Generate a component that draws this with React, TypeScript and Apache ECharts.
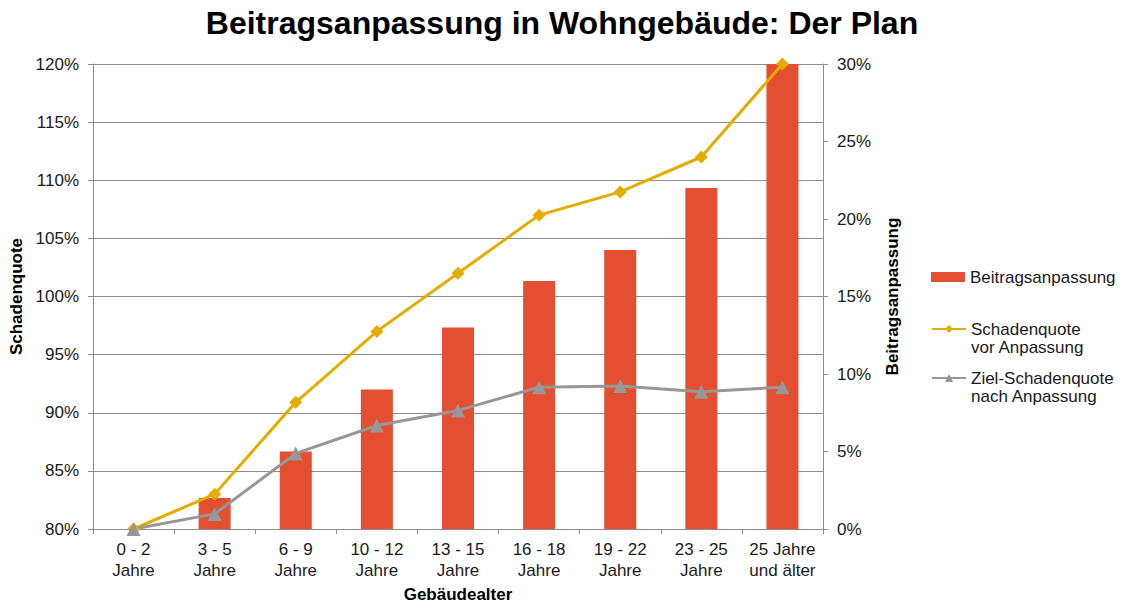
import React, { useEffect, useRef } from "react";
import * as echarts from "echarts";

const categories = [
  "0 - 2\nJahre",
  "3 - 5\nJahre",
  "6 - 9\nJahre",
  "10 - 12\nJahre",
  "13 - 15\nJahre",
  "16 - 18\nJahre",
  "19 - 22\nJahre",
  "23 - 25\nJahre",
  "25 Jahre\nund älter",
];
const beitragsanpassung = [0, 2, 5, 9, 13, 16, 18, 22, 30];
const schadenquoteVor = [80, 83, 90.9, 97, 102, 107, 109, 112, 120];
const zielSchadenquote = [80, 81.3, 86.5, 88.9, 90.2, 92.2, 92.3, 91.8, 92.2];

const FONT = "Liberation Sans, Arial, sans-serif";
const S1 = "Beitragsanpassung";
const S2 = "Schadenquote vor Anpassung";
const S3 = "Ziel-Schadenquote nach Anpassung";

export default function App() {
  const ref = useRef<HTMLDivElement>(null);
  useEffect(() => {
    if (!ref.current) return;
    const chart = echarts.init(ref.current, undefined, { renderer: "svg" });
    const axisGray = "#8c8c8c";
    const legendText = { fontSize: 17, color: "#1a1a1a", fontFamily: FONT, lineHeight: 18 };
    const legendBase = {
      orient: "vertical",
      left: 926,
      itemWidth: 34,
      itemHeight: 10,
      textStyle: legendText,
    };
    chart.setOption({
      animation: false,
      textStyle: { fontFamily: FONT },
      title: {
        text: "Beitragsanpassung in Wohngebäude: Der Plan",
        left: 557,
        textAlign: "center",
        top: 2,
        textStyle: { fontSize: 32, fontWeight: "bold", color: "#000", fontFamily: FONT },
      },
      grid: {
        left: 93,
        right: 303,
        top: 64,
        bottom: 76,
        containLabel: false,
        outerBoundsMode: "none",
      },
      legend: [
        { ...legendBase, top: 263, data: [{ name: S1, icon: "rect" }] },
        {
          ...legendBase,
          top: 297,
          data: [{ name: S2 }],
          formatter: () => "\nSchadenquote\nvor Anpassung",
        },
        {
          ...legendBase,
          top: 346,
          data: [{ name: S3 }],
          formatter: () => "\nZiel-Schadenquote\nnach Anpassung",
        },
      ],
      xAxis: {
        type: "category",
        data: categories,
        name: "Gebäudealter",
        nameLocation: "middle",
        nameGap: 57,
        nameTextStyle: { fontSize: 17, fontWeight: "bold", color: "#000", fontFamily: FONT },
        axisLine: { lineStyle: { color: axisGray } },
        axisTick: { show: true, alignWithLabel: false, length: 5, lineStyle: { color: axisGray } },
        axisLabel: { fontSize: 17, color: "#1a1a1a", margin: 10, lineHeight: 21, interval: 0, fontFamily: FONT },
      },
      yAxis: [
        {
          type: "value",
          min: 80,
          max: 120,
          interval: 5,
          name: "Schadenquote",
          nameLocation: "middle",
          nameRotate: 90,
          nameGap: 65,
          nameTextStyle: { fontSize: 17, fontWeight: "bold", color: "#000", fontFamily: FONT },
          axisLine: { show: true, lineStyle: { color: axisGray } },
          axisTick: { show: true, length: 5, lineStyle: { color: axisGray } },
          splitLine: { show: true, lineStyle: { color: axisGray, width: 1 } },
          axisLabel: { formatter: "{value}%", fontSize: 17, color: "#1a1a1a", margin: 14, fontFamily: FONT },
        },
        {
          type: "value",
          min: 0,
          max: 30,
          interval: 5,
          position: "right",
          name: "Beitragsanpassung",
          nameLocation: "middle",
          nameRotate: 90,
          nameGap: 61,
          nameTextStyle: { fontSize: 17, fontWeight: "bold", color: "#000", fontFamily: FONT },
          axisLine: { show: true, lineStyle: { color: axisGray } },
          axisTick: { show: true, length: 5, lineStyle: { color: axisGray } },
          splitLine: { show: false },
          axisLabel: { formatter: "{value}%", fontSize: 17, color: "#1a1a1a", margin: 14, fontFamily: FONT },
        },
      ],
      series: [
        {
          name: S1,
          type: "bar",
          yAxisIndex: 1,
          data: beitragsanpassung,
          barWidth: 32,
          itemStyle: { color: "#E34F30" },
        },
        {
          name: S2,
          type: "line",
          yAxisIndex: 0,
          data: schadenquoteVor,
          symbol: "diamond",
          symbolSize: 13,
          lineStyle: { color: "#E5AC00", width: 3 },
          itemStyle: { color: "#E5AC00" },
        },
        {
          name: S3,
          type: "line",
          yAxisIndex: 0,
          data: zielSchadenquote,
          symbol: "triangle",
          symbolSize: 14,
          lineStyle: { color: "#979797", width: 3 },
          itemStyle: { color: "#979797" },
        },
      ],
    });
    return () => chart.dispose();
  }, []);
  return (
    <div
      ref={ref}
      style={{ position: "absolute", left: 0, top: 0, width: 1126, height: 605 }}
    />
  );
}
